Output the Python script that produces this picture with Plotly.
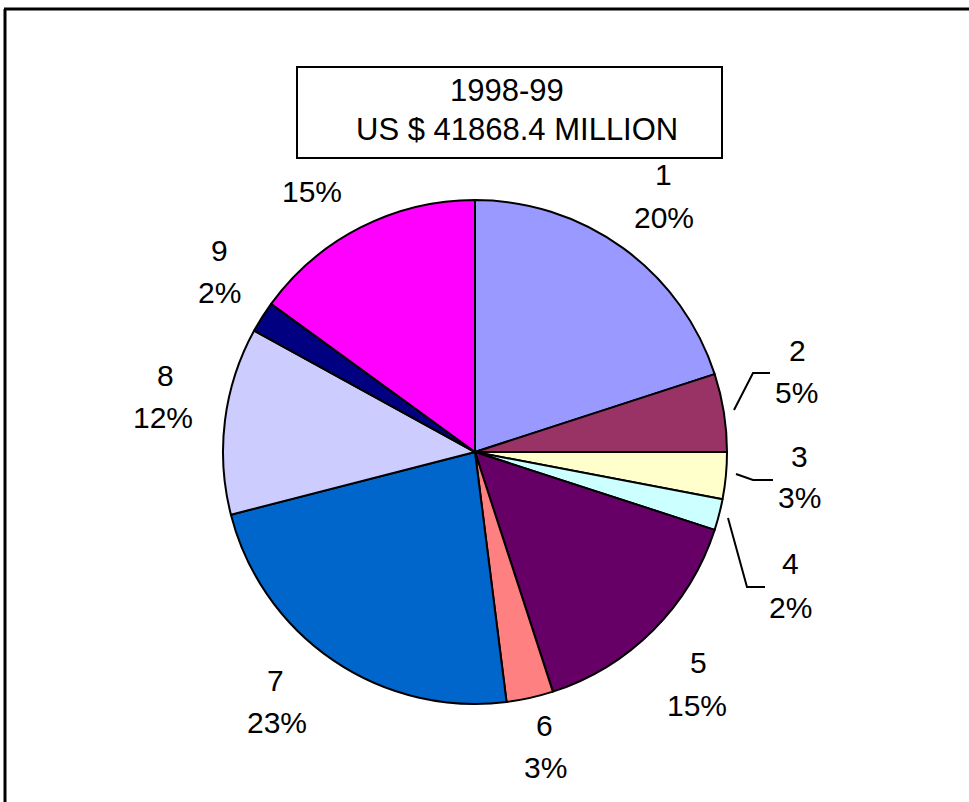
import plotly.graph_objects as go

# Share of each group in the 1998-99 total (percent)
categories = ["1", "2", "3", "4", "5", "6", "7", "8", "9", ""]
shares = [20, 5, 3, 2, 15, 3, 23, 12, 2, 15]
colors = ["#9999FF", "#993366", "#FFFFCC", "#CCFFFF", "#660066",
          "#FF8080", "#0066CC", "#CCCCFF", "#000080", "#FF00FF"]
title_lines = ["1998-99", "US $ 41868.4 MILLION"]

W, H = 969, 802
FAMILY = "Liberation Sans, Arial, sans-serif"
FONT = dict(family=FAMILY, size=30, color="black")
TITLE_FONT = dict(family=FAMILY, size=31, color="black")

# label anchor positions in pixels: (name x, name y, percent x, percent y)
label_pos = [
    (663, 174, 664, 217),
    (797, 350, 796, 392),
    (799, 456, 799, 498),
    (790, 563, 790, 607),
    (698, 662, 697, 705),
    (544, 725, 545, 767),
    (275, 680, 277, 722),
    (165, 375, 163, 417),
    (219, 250, 219, 292),
    (None, None, 312, 192),
]

cx, cy, r = 475, 452, 252


def px(x):
    return x / W


def py(y):
    return 1 - y / H


fig = go.Figure(go.Pie(
    labels=[str(i) for i in range(len(shares))],
    values=shares,
    sort=False,
    direction="clockwise",
    rotation=0,
    textinfo="none",
    hoverinfo="skip",
    marker=dict(colors=colors, line=dict(color="black", width=2)),
    domain=dict(x=[px(cx - r), px(cx + r)], y=[py(cy + r), py(cy - r)]),
    showlegend=False,
))

total = sum(shares)
annotations = []
for name, val, (nx, ny, tx, ty) in zip(categories, shares, label_pos):
    pct = f"{round(100 * val / total)}%"
    if name and nx is not None:
        annotations.append(dict(x=px(nx), y=py(ny), xref="paper", yref="paper",
                                text=name, showarrow=False, font=FONT,
                                xanchor="center", yanchor="middle"))
    annotations.append(dict(x=px(tx), y=py(ty), xref="paper", yref="paper",
                            text=pct, showarrow=False, font=FONT,
                            xanchor="center", yanchor="middle"))

# title box text
annotations.append(dict(x=px(507), y=py(90), xref="paper", yref="paper",
                        text=title_lines[0], showarrow=False, font=TITLE_FONT,
                        xanchor="center", yanchor="middle"))
annotations.append(dict(x=px(517), y=py(129), xref="paper", yref="paper",
                        text=title_lines[1], showarrow=False, font=TITLE_FONT,
                        xanchor="center", yanchor="middle"))


def pline(points):
    d = "M " + " L ".join(f"{px(x)},{py(y)}" for x, y in points)
    return dict(type="path", path=d, xref="paper", yref="paper",
                line=dict(color="black", width=2))


shapes = [
    # outer frame (left and top edges)
    dict(type="line", xref="paper", yref="paper", x0=px(5), y0=py(9),
         x1=px(5), y1=0, line=dict(color="black", width=3)),
    dict(type="line", xref="paper", yref="paper", x0=px(4), y0=py(9),
         x1=1, y1=py(9), line=dict(color="black", width=3)),
    # title box
    dict(type="rect", xref="paper", yref="paper", x0=px(297), y0=py(158),
         x1=px(722), y1=py(67), line=dict(color="black", width=2)),
    # leader lines for the small slices
    pline([(734, 410), (753, 373), (770, 373)]),
    pline([(736, 474), (753, 480), (773, 480)]),
    pline([(728, 518), (747, 587), (765, 587)]),
]

fig.update_layout(
    width=W, height=H,
    margin=dict(l=0, r=0, t=0, b=0),
    paper_bgcolor="white",
    plot_bgcolor="white",
    annotations=annotations,
    shapes=shapes,
)

fig.write_html("out.html")
